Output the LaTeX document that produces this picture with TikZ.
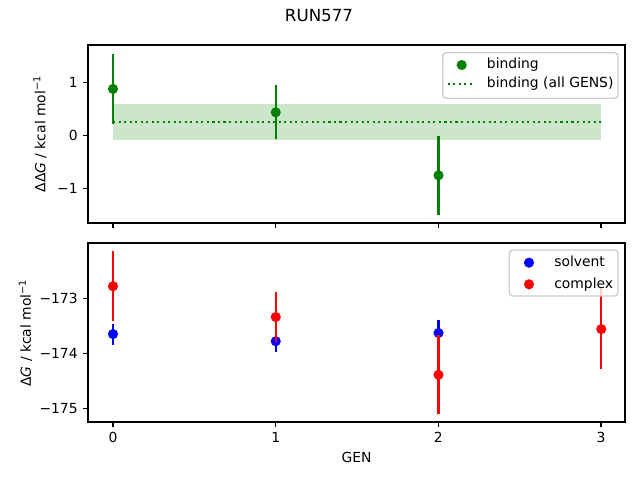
\documentclass[tikz,border=0pt]{standalone}
\usepackage{fontspec}
\setmainfont{DejaVu Sans}
\usepackage{tikz}
\usetikzlibrary{positioning}
\definecolor{mplgreen}{HTML}{008000}
\definecolor{mplblue}{HTML}{0000FF}
\definecolor{mplred}{HTML}{FF0000}
\definecolor{legedge}{HTML}{CCCCCC}
\tikzset{
	txt/.style = {inner sep=0pt, font=\fontsize{10bp}{12bp}\selectfont},
	ttl/.style = {txt, font=\fontsize{12bp}{14bp}\selectfont},% titre
	axbox/.style = {draw=black, line width=0.8bp},% cadre des axes
	axtick/.style = {draw=black, line width=0.8bp},
	ytlab/.style = {txt, anchor=east, xshift=-3.5bp},
	xtlab/.style = {txt, anchor=north, yshift=-3.5bp},
	ebar/.style = {line width=1.5bp},% barre d'erreur
	dot/.style = {radius=3.65bp},
	mean/.style = {mplgreen, line width=1.5bp, dash pattern=on 1.5bp off 2.475bp},
	band/.style = {fill=mplgreen, fill opacity=0.2},
	legbox/.style = {draw=legedge, line width=1bp, fill=white, fill opacity=0.8,
		rounded corners=2.5bp},% cadre de legende
	legtxt/.style = {txt, anchor=base west}
}

\begin{document}
\begin{tikzpicture}[x=0.01in, y=-0.01in]
\useasboundingbox (0,0) rectangle (640,480);
\node[ttl] (title) at (319,16) {RUN577};

% panneau du haut
\begin{scope}[shift={(113,135.3)}, x=1.6267in, y=0.53in]
	\fill[band] (0,-0.083) rectangle (3,0.59);
	\draw[mean] (0,0.257) -- (3,0.257);
	\foreach \g/\v/\e in {0/0.875/0.66, 1/0.434/0.507, 2/-0.755/0.748}{
		\draw[ebar, mplgreen] (\g,\v-\e) -- (\g,\v+\e);
		\fill[mplgreen] (\g,\v) circle[dot];
	}
\end{scope}
\draw[axbox] (88,45) rectangle (625,223);
\foreach \x in {113,275.67,438.33,601}
	\draw[axtick] (\x,223) -- ++(0,4.9);
\foreach \v/\t [count=\i] in {1/1, 0/0, -1/−1}
	\draw[axtick] (88,{135.3-53*\v}) -- ++(-4.9,0) node[ytlab] (yta\i) {\t};
\node[txt, rotate=90] (ylaba) at (40,134) {ΔΔ\textit{G} / kcal mol\textsuperscript{−1}};
% legende du haut
\draw[legbox] (442.7,52.7) rectangle (618,98.3);
\fill[mplgreen] (461.7,65) circle[dot];
\node[legtxt] (lbind) at (486.7,69) {binding};
\draw[mean] (447.7,84) -- (475,84);
\node[legtxt] (lall) at (486.7,88) {binding (all GENS)};

% panneau du bas
\begin{scope}[shift={(113,298.3)}, x=1.6267in, y=0.55in]
	\foreach \g/\v/\e in {0/-173.65/0.19, 1/-173.78/0.2, 2/-173.63/0.24}{
		\draw[ebar, mplblue] (\g,\v+173-\e) -- (\g,\v+173+\e);
		\fill[mplblue] (\g,\v+173) circle[dot];
	}
	\foreach \g/\v/\e in {0/-172.78/0.64, 1/-173.34/0.45, 2/-174.39/0.72, 3/-173.56/0.72}{
		\draw[ebar, mplred] (\g,\v+173-\e) -- (\g,\v+173+\e);
		\fill[mplred] (\g,\v+173) circle[dot];
	}
\end{scope}
\draw[axbox] (88,243) rectangle (625,422);
\foreach \g [count=\i] in {0,...,3}
	\draw[axtick] ({113+162.67*\g},422) -- ++(0,4.9) node[xtlab] (xt\i) {\g};
\foreach \v/\t [count=\i] in {-173/−173, -174/−174, -175/−175}
	\draw[axtick] (88,{298.3-55*(\v+173)}) -- ++(-4.9,0) node[ytlab] (ytb\i) {\t};
\node[txt, rotate=90] (ylabb) at (25.5,333) {Δ\textit{G} / kcal mol\textsuperscript{−1}};
\node[txt] (xlab) at (356.5,457) {GEN};
% legende du bas
\draw[legbox] (509.3,250) rectangle (618,296);
\fill[mplblue] (529,262.7) circle[dot];
\node[legtxt] (lsolv) at (554,267) {solvent};
\fill[mplred] (529,284.3) circle[dot];
\node[legtxt] (lcplx) at (554,288.5) {complex};
\end{tikzpicture}
\end{document}
